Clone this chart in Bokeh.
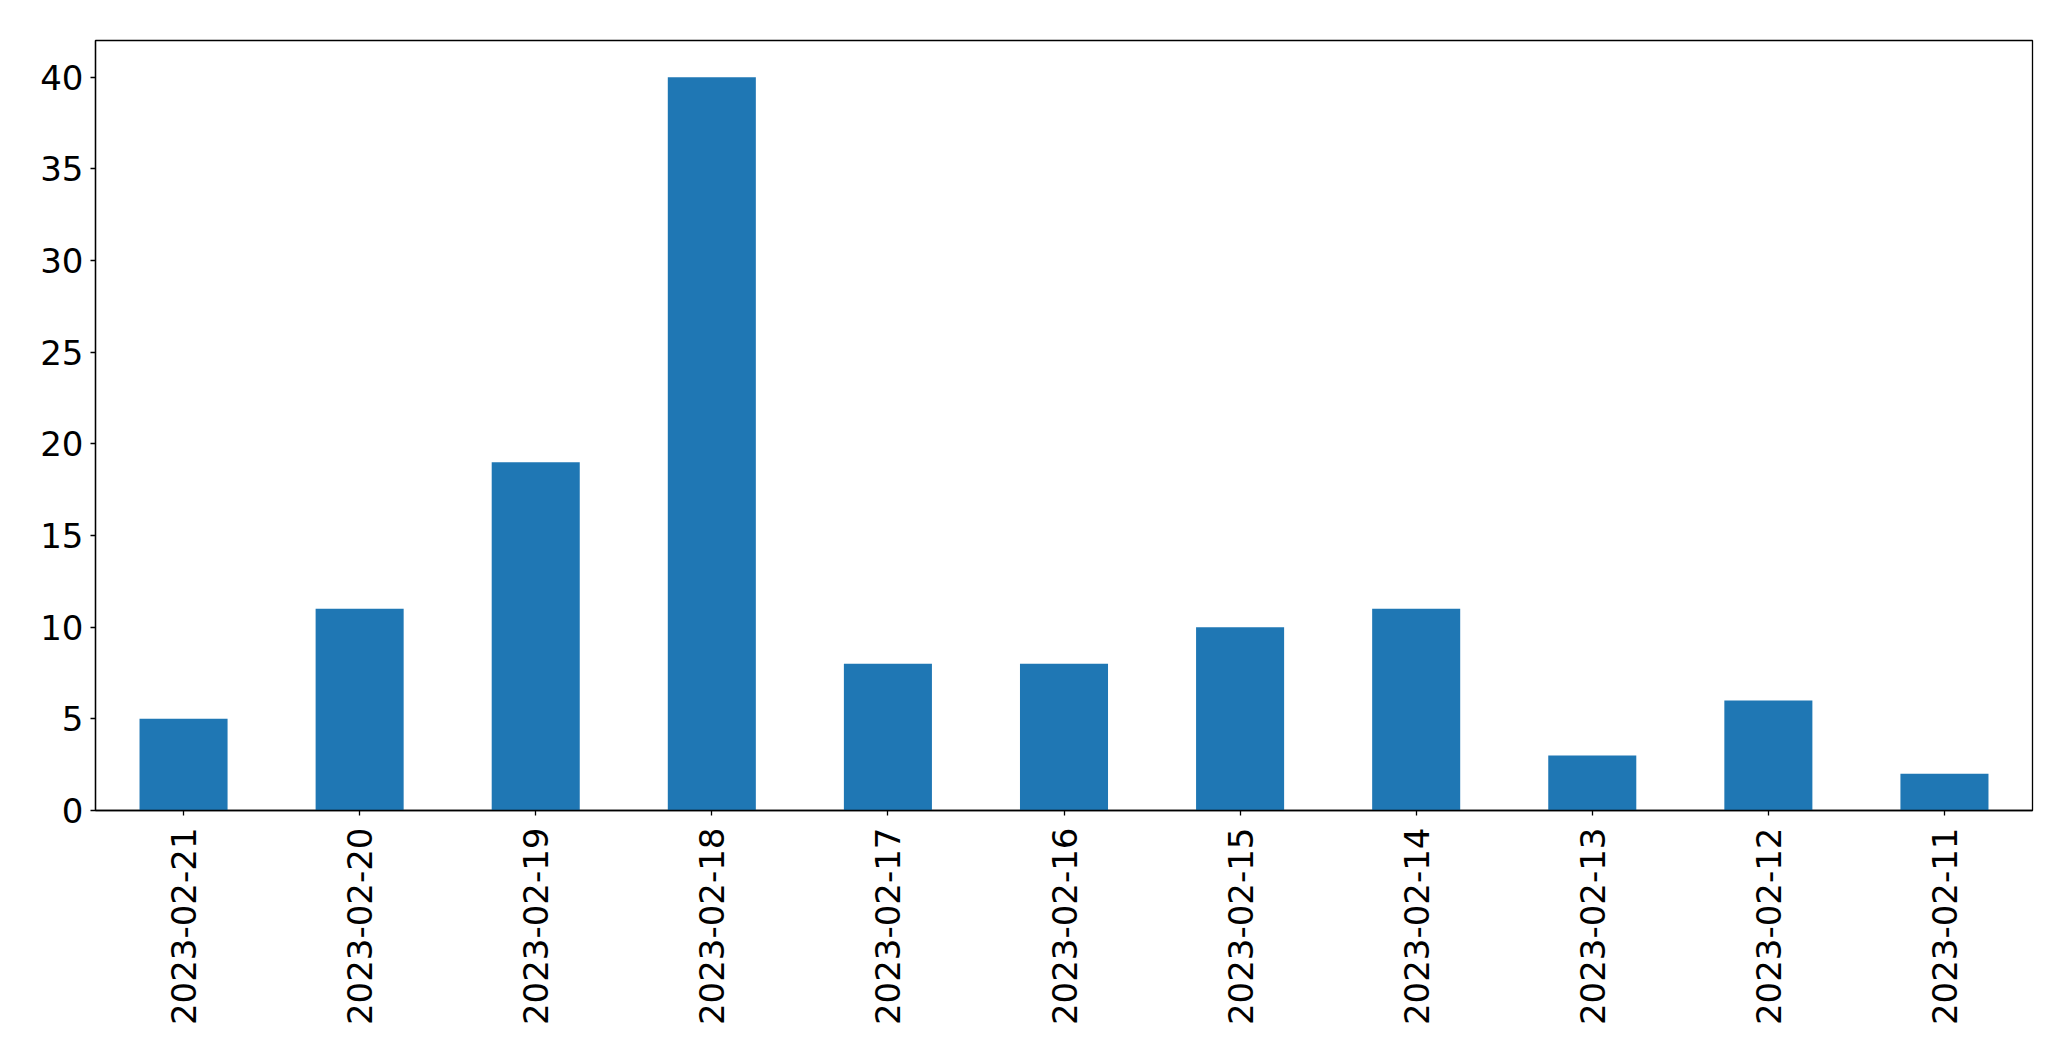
import math
from bokeh.plotting import figure
from bokeh.models import FactorRange, Range1d, FixedTicker
from bokeh.embed import file_html
from bokeh.resources import INLINE

dates = ["2023-02-21", "2023-02-20", "2023-02-19", "2023-02-18", "2023-02-17",
         "2023-02-16", "2023-02-15", "2023-02-14", "2023-02-13", "2023-02-12", "2023-02-11"]
counts = [5, 11, 19, 40, 8, 8, 10, 11, 3, 6, 2]
y_ticks = [0, 5, 10, 15, 20, 25, 30, 35, 40]

p = figure(x_range=FactorRange(*dates), y_range=Range1d(0, 42),
           frame_width=1937, frame_height=770,
           min_border_left=95, min_border_top=40, min_border_right=23, min_border_bottom=235,
           output_backend="svg", toolbar_location=None)

p.vbar(x=dates, top=counts, width=0.5, color="#1f77b4", line_color=None)

p.xgrid.visible = False
p.ygrid.visible = False
p.outline_line_color = "black"
p.outline_line_width = 1.3
p.outline_line_alpha = 1.0

font = "DejaVu Sans"
for ax in (p.xaxis[0], p.yaxis[0]):
    ax.axis_line_color = "black"
    ax.axis_line_width = 1.3
    ax.major_tick_line_color = "black"
    ax.major_tick_line_width = 1.3
    ax.major_tick_out = 5
    ax.major_tick_in = 0
    ax.minor_tick_line_color = None
    ax.major_label_text_font = font
    ax.major_label_text_font_size = "34px"
    ax.major_label_text_color = "black"

p.yaxis.ticker = FixedTicker(ticks=y_ticks)
p.yaxis.major_label_standoff = 7
p.xaxis.major_label_orientation = math.pi / 2
p.xaxis.major_label_standoff = 12
p.xaxis.group_text_font_size = "0px"

open("out.html", "w").write(file_html(p, INLINE))
